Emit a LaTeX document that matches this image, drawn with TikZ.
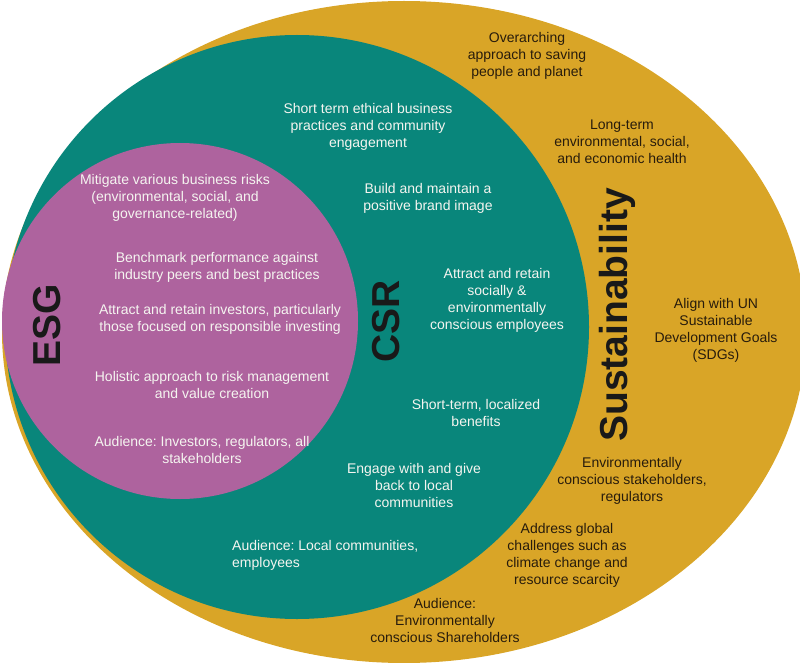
\documentclass[tikz,border=0pt]{standalone}
\usepackage{fontspec}
\setmainfont{Liberation Sans}
\frenchspacing
\definecolor{goldbg}{RGB}{217,165,39}
\definecolor{tealbg}{RGB}{9,134,123}
\definecolor{pinkbg}{RGB}{174,99,158}
\definecolor{darktxt}{RGB}{40,28,12}
\definecolor{lighttxt}{RGB}{245,245,240}
\tikzset{
  body/.style={align=center, inner sep=0pt, font=\fontsize{14}{17}\selectfont\frenchspacing},
  lighttext/.style={body, text=lighttxt},
  darktext/.style={body, text=darktxt},
  title/.style={inner sep=0pt, rotate=90, font=\fontsize{39}{44}\selectfont\bfseries, text=black!90}
}
\begin{document}
\begin{tikzpicture}[x=1pt,y=-1pt]
\useasboundingbox (0,0) rectangle (800,663);
% circles
\fill[goldbg] (404,332) ellipse [x radius=402, y radius=331];
\fill[tealbg] (297,327) circle [radius=292];
\fill[pinkbg] (180,321) circle [radius=178];
% titles
\node[title] (esg) at (47,325) {ESG};
\node[title] (csr) at (386,321) {CSR};
\node[title] (sus) at (617,315) {Sustainability};
% ESG texts
\node[lighttext] (e1) at (175,198) {Mitigate various business risks\\(environmental, social, and\\governance-related)};
\node[lighttext] (e2) at (217,267) {Benchmark performance against\\industry peers and best practices};
\node[lighttext] (e3) at (220,319) {Attract and retain investors, particularly\\those focused on responsible investing};
\node[lighttext] (e4) at (212,385) {Holistic approach to risk management\\and value creation};
\node[lighttext] (e5) at (202,450) {Audience: Investors, regulators, all\\stakeholders};
% CSR texts
\node[lighttext] (c1) at (368,127) {Short term ethical business\\practices and community\\engagement};
\node[lighttext] (c2) at (428,198) {Build and maintain a\\positive brand image};
\node[lighttext] (c3) at (497,300) {Attract and retain\\socially \&\\environmentally\\conscious employees};
\node[lighttext] (c4) at (476,413) {Short-term, localized\\benefits};
\node[lighttext] (c5) at (414,485) {Engage with and give\\back to local\\communities};
\node[lighttext, align=left, anchor=west] (c6) at (232,555) {Audience: Local communities,\\employees};
% Sustainability texts
\node[darktext] (s1) at (527,56) {Overarching\\approach to saving\\people and planet};
\node[darktext] (s2) at (622,142) {Long-term\\environmental, social,\\and economic health};
\node[darktext] (s3) at (716,330) {Align with UN\\Sustainable\\Development Goals\\(SDGs)};
\node[darktext] (s4) at (632,481) {Environmentally\\conscious stakeholders,\\regulators};
\node[darktext] (s5) at (567,555) {Address global\\challenges such as\\climate change and\\resource scarcity};
\node[darktext] (s6) at (445,620) {Audience:\\Environmentally\\conscious Shareholders};
\end{tikzpicture}
\end{document}
